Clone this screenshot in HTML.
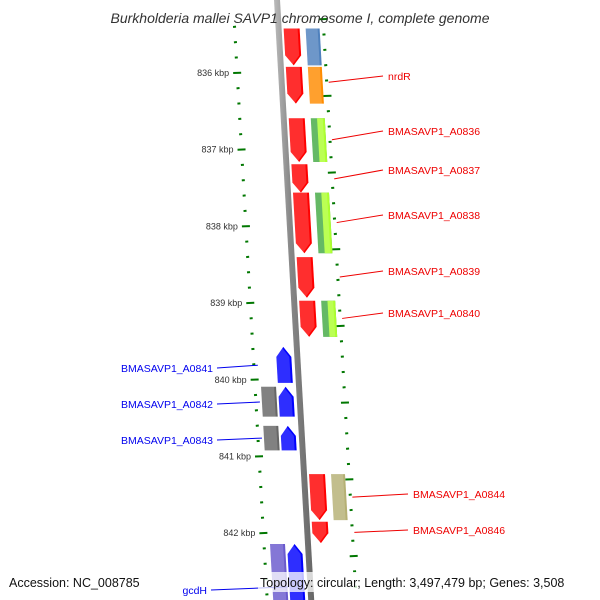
<!DOCTYPE html>
<html><head><meta charset="utf-8"><style>
html,body{margin:0;padding:0;background:#fff}
svg{display:block;font-family:"Liberation Sans","DejaVu Sans",sans-serif}
</style></head><body>
<svg id="c" width="600" height="600" viewBox="0 0 600 600">
<defs>
<linearGradient id="bb" x1="0" x2="1"><stop offset="0" stop-color="#bbb"/><stop offset="0.4" stop-color="#888"/><stop offset="1" stop-color="#666"/></linearGradient>
</defs>
<g id="ticks"></g>
<g id="genes"></g>
<g id="labels"></g>
<text x="300" y="23" text-anchor="middle" font-size="14" font-style="italic" fill="#333">Burkholderia mallei SAVP1 chromosome I, complete genome</text>
<rect x="258" y="572" width="334" height="20" fill="#fff" opacity="0.75"/>
<text x="9" y="587" font-size="12.5" fill="#111">Accession: NC_008785</text>
<text x="260" y="587" font-size="12.5" fill="#111">Topology: circular; Length: 3,497,479 bp; Genes: 3,508</text>
</svg>
<script>
const tickKbp=[836,837,838,839,840,841,842];
const geneStart=[835.42,835.92,836.59,837.19,837.56,838.40,838.97,841.23,841.85, 835.42,835.92,836.59,837.56,838.97,841.23, 839.57,840.09,840.60,842.14, 840.09,840.60,842.14];
const geneEnd  =[835.90,836.40,837.16,837.56,838.35,838.93,839.44,841.83,842.13, 835.90,836.40,837.16,838.35,839.44,841.83, 840.04,840.48,840.92,842.90, 840.48,840.92,842.90];
const geneStrand=[1,1,1,1,1,1,1,1,1, 0,0,0,0,0,0, -1,-1,-1,-1, 0,0,0];
const geneLane=[1,1,1,1,1,1,1,1,1, 2,2,2,2,2,2, -1,-1,-1,-1, -2,-2,-2];
const geneColor=["#f00","#f00","#f00","#f00","#f00","#f00","#f00","#f00","#f00","#4f81bd","#ff8c00","#4a4","#4a4","#4a4","#b5b074","#00f","#00f","#00f","#00f","#666","#666","#6a5acd"];
const labelText=["nrdR","BMASAVP1_A0836","BMASAVP1_A0837","BMASAVP1_A0838","BMASAVP1_A0839","BMASAVP1_A0840","BMASAVP1_A0844","BMASAVP1_A0846","BMASAVP1_A0841","BMASAVP1_A0842","BMASAVP1_A0843","gcdH"];
const labelKbp=[836.12,836.87,837.38,837.95,838.66,839.20,841.53,841.99,839.81,840.29,840.76,842.70];
const labelSide=[1,1,1,1,1,1,1,1,-1,-1,-1,-1];
const labelY=[76,131,170,215,271,313,494,530,368,404,440,590];

const NS='http://www.w3.org/2000/svg';
const y=k=>73+(k-836)*76.7;
const bx=yy=>277+0.057*yy;
function mk(t,a,p){const e=document.createElementNS(NS,t);for(const k in a)e.setAttribute(k,a[k]);p.appendChild(e);return e;}
const T=document.getElementById('ticks'),G=document.getElementById('genes'),L=document.getElementById('labels');
// backbone
const bb=mk('polygon',{points:`${bx(0)-3},0 ${bx(0)+3},0 ${bx(600)+3},600 ${bx(600)-3},600`,fill:'url(#bb)'},G);


// ticks
for(let k=835.4;k<=842.95;k+=0.2){
  const yy=y(k);
  const r=Math.round(k*10)/10;
  const major=Math.abs(r-Math.round(r))<0.01;
  const lx=bx(yy)-44;
  const t=mk('line',{x1:lx-(major?4:1.5),x2:lx+(major?4:1.5),y1:yy,y2:yy-0.3,stroke:'#070',"stroke-width":2},T);
  
  
}
for(let k=835.3;k<=842.95;k+=0.2){
  const yy=y(k);
  const n=Math.round((k-835.3)/0.2);
  const major=n%5==0;
  const rx=bx(yy)+45;
  const t=mk('line',{x1:rx-(major?4:1.5),x2:rx+(major?4:1.5),y1:yy,y2:yy-0.3,stroke:'#070',"stroke-width":2},T);
  
  
}
tickKbp.forEach(k=>{
  const yy=y(k);
  const t=mk('text',{x:bx(yy)-52,y:yy+3,"text-anchor":"end","font-size":9,fill:'#333'},T);
  t.textContent=k+' kbp';
  
  
});
// genes
const laneOff={1:[5,21],2:[27,41],'-1':[-21,-6],'-2':[-38,-23]};
geneStart.forEach((s,i)=>{
  const y0=y(s),y1=Math.min(y(geneEnd[i]),610);
  const [a,b]=laneOff[geneLane[i]];
  const X=(yy,o)=>bx(yy)+o;
  let pts;
  const h=Math.min(10,(y1-y0)/2);
  if(geneStrand[i]==1){
    pts=[[X(y0,a),y0],[X(y0,b),y0],[X(y1-h,b),y1-h],[X(y1,(a+b)/2),y1],[X(y1-h,a),y1-h]];
  }else if(geneStrand[i]==-1){
    pts=[[X(y0+h,a),y0+h],[X(y0,(a+b)/2),y0],[X(y0+h,b),y0+h],[X(y1,b),y1],[X(y1,a),y1]];
  }else{
    pts=[[X(y0,a),y0],[X(y0,b),y0],[X(y1,b),y1],[X(y1,a),y1]];
  }
  const g=mk('g',{},G);
  
  
  mk('polygon',{points:pts.map(p=>p.join(',')).join(' '),fill:geneColor[i]},g);
  if(geneColor[i]=='#4a4'){
    const w=b-a;
    mk('polygon',{points:[[X(y0,a+w*0.45),y0],[X(y0,b),y0],[X(y1,b),y1],[X(y1,a+w*0.45),y1]].map(p=>p.join(',')).join(' '),fill:'#adff2f'},g);
  }
  mk('polygon',{points:pts.map(p=>p.join(',')).join(' '),fill:'#fff',opacity:0.18,transform:`translate(-2,0)`,style:'clip-path:none'},g);
});
// labels
labelText.forEach((t,i)=>{
  const yy=y(labelKbp[i]);
  const side=labelSide[i];
  const col=side>0?'#e00':'#00e';
  const g=mk('g',{},L);
  
  
  if(side>0){
    const x0=bx(yy)+47, x1=383;
    mk('line',{x1:x0,y1:yy,x2:x1+(i>=6?25:0),y2:labelY[i],stroke:col,"stroke-width":1},g);
    const tx=mk('text',{x:x1+5+(i>=6?25:0),y:labelY[i]+4,"font-size":10.5,fill:col},g);
    tx.textContent=t;
  }else{
    const x0=bx(yy)-(i==11?22:40), x1=t=='gcdH'?211:217;
    mk('line',{x1:x0,y1:yy,x2:x1,y2:labelY[i],stroke:col,"stroke-width":1},g);
    const tx=mk('text',{x:x1-4,y:labelY[i]+4,"font-size":10.5,fill:col,"text-anchor":"end"},g);
    tx.textContent=t;
  }
});
</script>
</body></html>
